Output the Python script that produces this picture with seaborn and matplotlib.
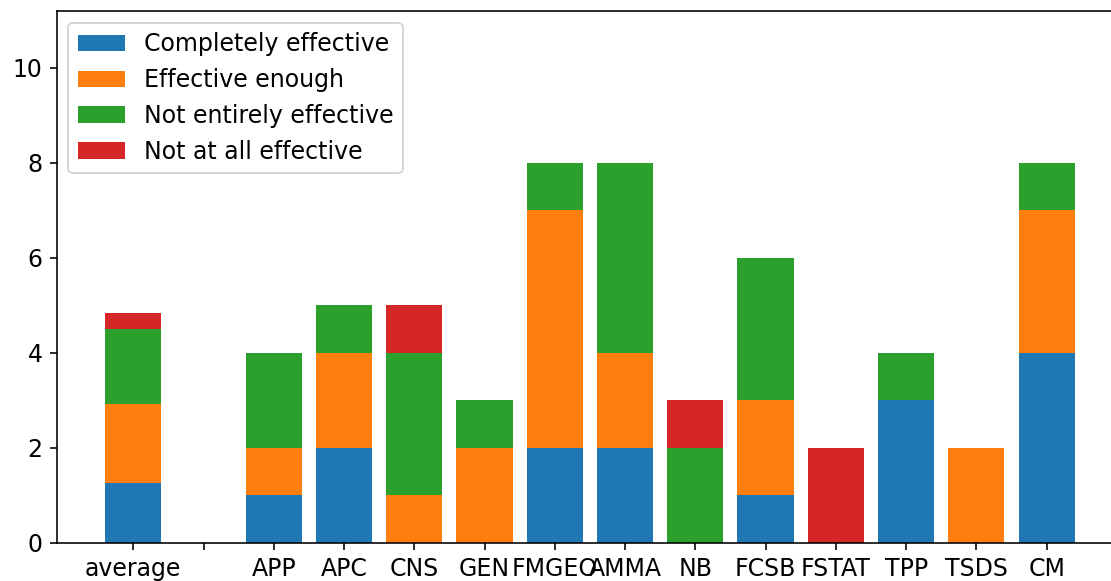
import numpy as np
import pandas as pd
import matplotlib
matplotlib.use("Agg")
import matplotlib.pyplot as plt
import seaborn as sns

# categories (the blank one is the gap between the average and the rest)
categories = ["average", "", "APP", "APC", "CNS", "GEN", "FMGEO", "AMMA",
              "NB", "FCSB", "FSTAT", "TPP", "TSDS", "CM"]

completely = [1.25, 0, 1, 2, 0, 0, 2, 2, 0, 1, 0, 3, 0, 4]
enough = [1.67, 0, 1, 2, 1, 2, 5, 2, 0, 2, 0, 0, 2, 3]
not_entirely = [1.58, 0, 2, 1, 3, 1, 1, 4, 2, 3, 0, 1, 0, 1]
not_at_all = [0.33, 0, 0, 0, 1, 0, 0, 0, 1, 0, 2, 0, 0, 0]

labels = ["Completely effective", "Effective enough",
          "Not entirely effective", "Not at all effective"]
colors = ["#1f77b4", "#ff7f0e", "#2ca02c", "#d62728"]

df = pd.DataFrame({"cat": categories,
                   labels[0]: completely,
                   labels[1]: enough,
                   labels[2]: not_entirely,
                   labels[3]: not_at_all})

# cumulative totals, drawn from the top layer down so each layer covers the next
cum = df[labels].cumsum(axis=1)

plt.rcParams["font.size"] = 11.8

fig = plt.figure(figsize=(1111 / 144, 581 / 144), dpi=144)
ax = fig.add_axes([0.051, 0.066, 0.96, 0.915])

for lab, col in reversed(list(zip(labels, colors))):
    sns.barplot(x=df["cat"], y=cum[lab], color=col, saturation=1,
                width=0.8, linewidth=0, label=lab, ax=ax, order=categories)

handles, labs = ax.get_legend_handles_labels()
ax.legend(handles[::-1], labs[::-1], loc="upper left")

ax.set_xlim(-1.09, 14.09)
ax.set_ylim(0, 11.2)
ax.set_yticks([0, 2, 4, 6, 8, 10])
ax.set_xlabel("")
ax.set_ylabel("")
# the reference is cropped just before the right frame line
ax.spines["right"].set_visible(False)

fig.savefig("out.png", dpi=144)
